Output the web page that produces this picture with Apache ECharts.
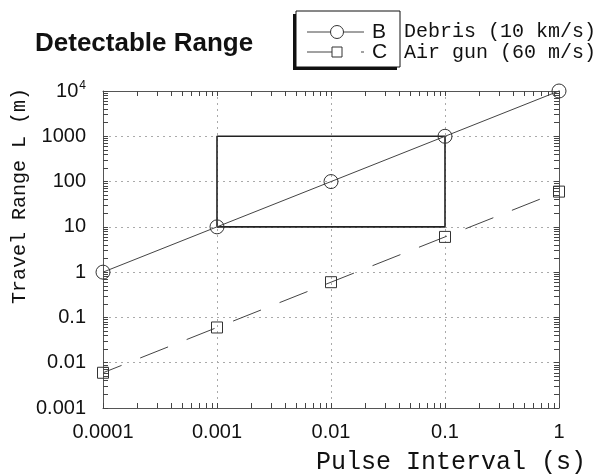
<!DOCTYPE html>
<html><head><meta charset="utf-8">
<script src="https://cdn.jsdelivr.net/npm/echarts@6/dist/echarts.min.js"></script>
<style>html,body{margin:0;padding:0;background:#fff}#c{width:597px;height:474px}</style>
</head><body><div id="c"></div>
<script>
// ---- data ----
var pulseInterval = [0.0001, 0.001, 0.01, 0.1, 1];
var rangeB = [1, 10, 100, 1000, 10000];          // Debris (10 km/s)
var rangeC = [0.006, 0.06, 0.6, 6, 60];          // Air gun (60 m/s)
var boxX = [0.001, 0.1, 0.1, 0.001, 0.001];
var boxY = [10, 10, 1000, 1000, 10];
var xDecades = [0.0001, 0.001, 0.01, 0.1, 1];
var yDecades = [0.001, 0.01, 0.1, 1, 10, 100, 1000, 10000];
var xTickLabels = ['0.0001', '0.001', '0.01', '0.1', '1'];
var yTickLabels = ['0.001', '0.01', '0.1', '1', '10', '100', '1000', '{n|10}{e|4}'];
var minorMult = [1, 2, 3, 4, 5, 6, 7, 8, 9];

function tickVals(decs) {
  var out = [];
  decs.forEach(function (d, i) {
    if (i === decs.length - 1) { out.push(d); return; }
    minorMult.forEach(function (m) { out.push(d * m); });
  });
  return out;
}
function pairs(xs, ys) { return xs.map(function (x, i) { return [x, ys[i]]; }); }
function labelFor(decs, labels) {
  return function (v) {
    var e = Math.round(Math.log10(v));
    for (var i = 0; i < decs.length; i++) if (Math.round(Math.log10(decs[i])) === e) return labels[i];
    return '';
  };
}

var chart = echarts.init(document.getElementById('c'), null, { renderer: 'canvas' });
var axisCol = '#555';
var gridTop = 91, gridLeft = 103, gridRight = 38, gridBottom = 66;
var baseX = { type: 'log', logBase: 10, min: 0.0001, max: 1, splitNumber: 4 };
var baseY = { type: 'log', logBase: 10, min: 0.001, max: 10000, splitNumber: 7 };
var tickStyle = { show: true, inside: true, length: 5, lineStyle: { color: '#444', width: 1 } };

var option = {
  animation: false,
  backgroundColor: '#fff',
  grid: { left: gridLeft, right: gridRight, top: gridTop, bottom: gridBottom, containLabel: false },
  xAxis: [
    Object.assign({}, baseX, {
      position: 'bottom',
      axisLine: { show: true, lineStyle: { color: axisCol, width: 1 } },
      axisTick: { show: false },
      splitLine: { show: true, lineStyle: { color: '#aaa', type: [2, 4], width: 1 } },
      axisLabel: { show: true, margin: 14, fontFamily: 'Liberation Sans', fontSize: 20, color: '#111',
        customValues: xDecades, formatter: labelFor(xDecades, xTickLabels) }
    }),
    Object.assign({}, baseX, {
      position: 'top',
      axisLine: { show: true, lineStyle: { color: axisCol, width: 1 } },
      axisTick: Object.assign({ customValues: tickVals(xDecades) }, tickStyle),
      splitLine: { show: false }, axisLabel: { show: false }
    }),
    Object.assign({}, baseX, {
      position: 'bottom',
      axisLine: { show: false },
      axisTick: Object.assign({ customValues: tickVals(xDecades) }, tickStyle),
      splitLine: { show: false }, axisLabel: { show: false }
    })
  ],
  yAxis: [
    Object.assign({}, baseY, {
      position: 'left',
      axisLine: { show: true, lineStyle: { color: axisCol, width: 1 } },
      axisTick: { show: false },
      splitLine: { show: true, lineStyle: { color: '#aaa', type: [2, 4], width: 1 } },
      axisLabel: { show: true, margin: 17, fontFamily: 'Liberation Sans', fontSize: 20, color: '#111',
        customValues: yDecades, formatter: labelFor(yDecades, yTickLabels),
        rich: { n: { fontFamily: 'Liberation Sans', fontSize: 20, color: '#111' },
                e: { fontFamily: 'Liberation Sans', fontSize: 12, color: '#111', padding: [0, 0, 11, 1] } } }
    }),
    Object.assign({}, baseY, {
      position: 'right',
      axisLine: { show: true, lineStyle: { color: axisCol, width: 1 } },
      axisTick: Object.assign({ customValues: tickVals(yDecades) }, tickStyle),
      splitLine: { show: false }, axisLabel: { show: false }
    }),
    Object.assign({}, baseY, {
      position: 'left',
      axisLine: { show: false },
      axisTick: Object.assign({ customValues: tickVals(yDecades) }, tickStyle),
      splitLine: { show: false }, axisLabel: { show: false }
    })
  ],
  series: [
    {
      name: 'box', type: 'line', xAxisIndex: 0, yAxisIndex: 0,
      data: pairs(boxX, boxY), symbol: 'none', clip: false, z: 3,
      lineStyle: { color: '#222', width: 1.6 }
    },
    {
      name: 'B', type: 'line', xAxisIndex: 0, yAxisIndex: 0,
      data: pairs(pulseInterval, rangeB), symbol: 'circle', symbolSize: 14, clip: false, z: 4,
      lineStyle: { color: '#444', width: 1 },
      itemStyle: { color: 'rgba(255,255,255,0)', borderColor: '#333', borderWidth: 1 }
    },
    {
      name: 'C', type: 'line', xAxisIndex: 0, yAxisIndex: 0,
      data: pairs(pulseInterval, rangeC), symbol: 'rect', symbolSize: 11, clip: false, z: 4,
      lineStyle: { color: '#444', width: 1, type: [30, 20], dashOffset: 10 },
      itemStyle: { color: 'rgba(255,255,255,0)', borderColor: '#333', borderWidth: 1 }
    }
  ],
  graphic: [
    { type: 'text', left: 35, top: 31, style: { text: 'Detectable Range', font: 'bold 26px "Liberation Sans"', fill: '#111' } },
    { type: 'text', x: 20, y: 196, rotation: Math.PI / 2,
      style: { text: 'Travel Range L (m)', font: '20px "Liberation Mono"', fill: '#111', align: 'center', verticalAlign: 'middle' } },
    { type: 'text', x: 586, y: 462,
      style: { text: 'Pulse Interval (s)', font: '25px "Liberation Mono"', fill: '#111', align: 'right', verticalAlign: 'middle' } },
    // legend box with shadow
    { type: 'rect', shape: { x: 293, y: 14, width: 104, height: 56 }, style: { fill: '#111' }, z: 10 },
    { type: 'rect', shape: { x: 296, y: 11, width: 104, height: 56 }, style: { fill: '#fff', stroke: '#111', lineWidth: 1 }, z: 11 },
    { type: 'line', shape: { x1: 307, y1: 32, x2: 364, y2: 32 }, style: { stroke: '#444', lineWidth: 1 }, z: 12 },
    { type: 'circle', shape: { cx: 337, cy: 32, r: 6.5 }, style: { fill: '#fff', stroke: '#333', lineWidth: 1 }, z: 13 },
    { type: 'line', shape: { x1: 307, y1: 52, x2: 340, y2: 52 }, style: { stroke: '#444', lineWidth: 1 }, z: 12 },
    { type: 'line', shape: { x1: 361, y1: 52, x2: 364, y2: 52 }, style: { stroke: '#444', lineWidth: 1 }, z: 12 },
    { type: 'rect', shape: { x: 332, y: 47, width: 10, height: 10 }, style: { fill: '#fff', stroke: '#333', lineWidth: 1 }, z: 13 },
    { type: 'text', x: 372, y: 32, style: { text: 'B', font: '21px "Liberation Sans"', fill: '#111', verticalAlign: 'middle' }, z: 13 },
    { type: 'text', x: 372, y: 52, style: { text: 'C', font: '21px "Liberation Sans"', fill: '#111', verticalAlign: 'middle' }, z: 13 },
    { type: 'text', x: 404, y: 32, style: { text: 'Debris (10 km/s)', font: '20px "Liberation Mono"', fill: '#111', verticalAlign: 'middle' } },
    { type: 'text', x: 404, y: 53, style: { text: 'Air gun (60 m/s)', font: '20px "Liberation Mono"', fill: '#111', verticalAlign: 'middle' } }
  ]
};
chart.setOption(option);
</script>
</body></html>
